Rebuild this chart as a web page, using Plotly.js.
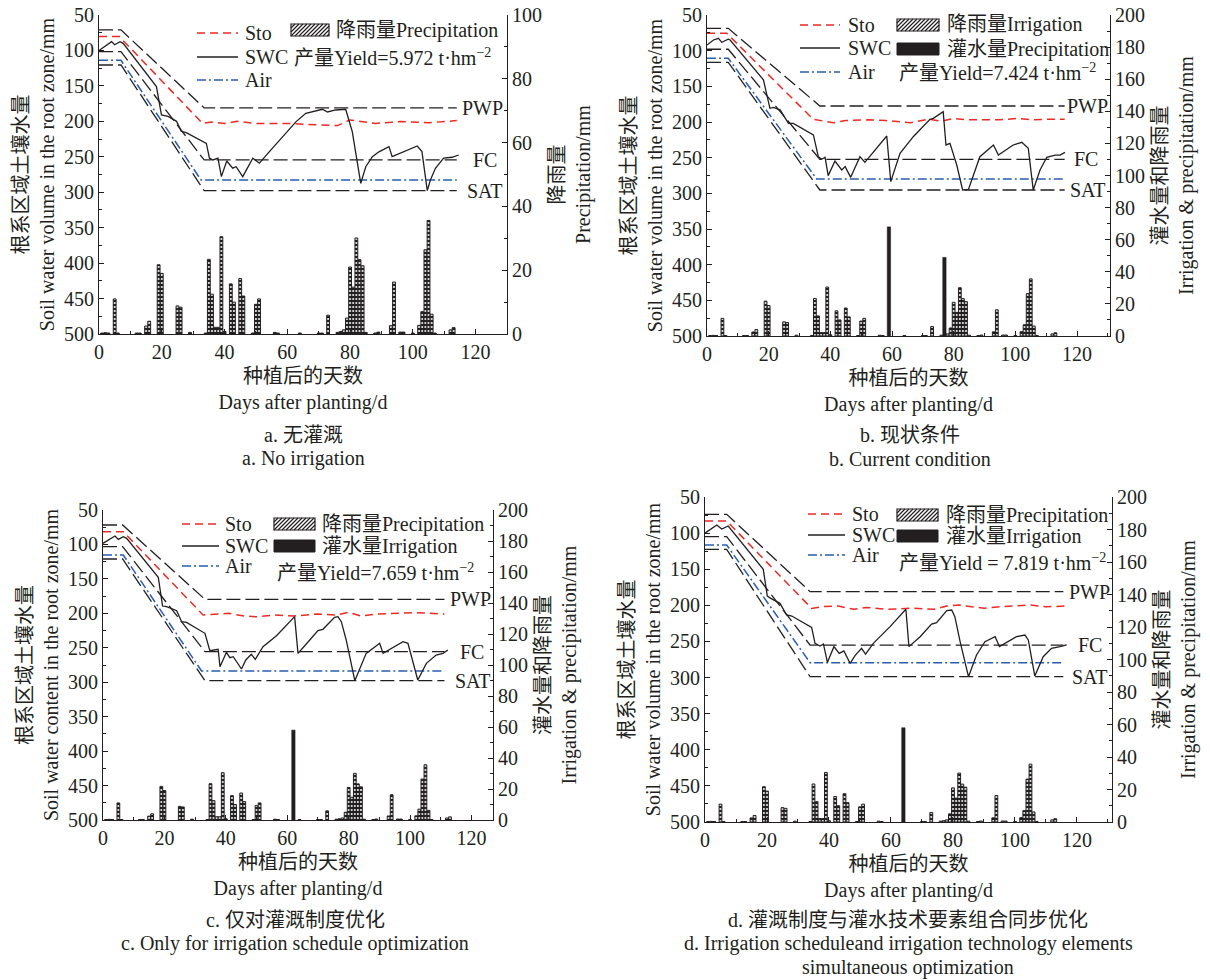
<!DOCTYPE html>
<html><head><meta charset="utf-8">
<script src="https://cdn.plot.ly/plotly-3.0.1.min.js"></script>
<style>body{margin:0;background:#fff}#chart{width:1210px;height:980px}</style>
</head><body><div id="chart"></div>
<script>
// ---------------- DATA ----------------
// Precipitation (same rainfall in all four panels), day after planting -> mm
const precipDays = [1,2,3,5,6,12,13,15,16,19,20,25,26,29,34,35,36,37,38,39,40,42,43,45,46,49,50,51,56,57,64,70,71,73,76,77,78,79,80,81,82,83,84,85,88,89,93,94,96,97,100,102,103,104,105,106,107,112,113];
const precipVals = [0.3,0.4,0.3,11,0.3,0.3,0.3,2.5,4,21.7,19,8.8,8.4,0.5,0.3,23.4,12.5,2.1,2.1,30.5,0.8,15.7,10,17.4,11.9,0.3,9.3,11,0.5,0.3,0.3,0.3,0.3,5.9,0.5,0.8,1.3,5,21,14.7,30.1,23.3,21.4,0.5,0.3,0.6,2.6,16.3,0.6,0.6,0.3,2.7,7,26.4,35.6,6.2,0.3,1.3,2];

// Irrigation events
const irrigDaysB = [59,77];  const irrigValsB = [68,49];
const irrigDaysC = [62];     const irrigValsC = [58];
const irrigDaysD = [64];     const irrigValsD = [58];

// Panel a: no irrigation
const bndDaysA = [0,7,33.5,114];
const pwpA = [71,71,181,181];
const fcA  = [101.7,101.7,254.5,254.5];
const airDaysA = [0,7,32.5,114];
const airA = [114,114,282.7,282.7];
const satA = [120.5,120.5,297.8,297.8];
const stoDaysA = [0,6.5,33,36,40,44,50,60,70,76,80,88,96,105,114];
const stoA = [80.5,80.5,203,201,203,200,203,203,205,206,198,203,200.4,202,199];
const swcDaysA = [0,4,5,6.7,7.7,18.3,19.9,22,24.7,26.2,27.8,33.1,34.2,35.2,36.3,37.9,39,40.7,42.6,43.7,45.8,49,51.1,54.3,58.5,62.8,65.9,71.2,72.8,75.4,78.6,80.7,83.4,85,87.1,89.2,92.4,93.4,101.4,102.9,104.6,105.6,107.2,109.8,112.5,114.6];
const swcA = [100,87.6,92,87.6,90,151,191,193,200,214,216,228.6,231,252,254.5,252,278,256,266,264,278,252,259,242.7,221.6,200.4,188.7,183,186.8,184,183,214.5,287.4,264,249.8,243,235.7,249.8,234.8,242.7,297.8,282.7,266.3,252,250.7,247.5];

// Panel b: current condition
const bndDaysB = [0,6.9,36.6,116];
const pwpB = [68.7,68.7,177.6,177.6];
const fcB  = [98,98,252.3,252.3];
const airDaysB = [0,6.9,35.6,116];
const airB = [110.7,110.7,280,280];
const satB = [116.4,116.4,295.3,295.3];
const stoDaysB = [0,6.4,34.5,41,45,52,58,66,72,76,80,85,89,95,101,106,112,116];
const stoB = [75.7,75.7,196.3,201,198,197,198,201,196,199,195,197,197,197,195,197,196,196];
const swcDaysB = [0,2.1,3.7,4.8,6.9,7.5,18.3,20.4,21.5,23.7,26.4,28,34.5,36.1,37.2,38.3,39.3,41.5,43.7,44.8,46.6,49.6,51.2,58.3,59.6,62.6,66.9,72.3,73.4,76.6,77.5,78.8,81,82.9,84.8,88.5,92.9,94.5,99.3,102.1,104.2,105.8,108,110.2,112.9,114.5,116.1];
const swcB = [92,85,82.7,88.3,84,85,141,180.8,179.4,183,201.9,201.9,218.2,248.6,252.3,249.5,275.2,254.7,267.3,262.6,277.6,248.6,256.5,219.6,283.6,244,220.6,196.3,194.9,185.5,232.2,229.9,260.3,295.3,294.4,248.6,232.2,246.3,232.2,228.5,236.9,295.3,267.3,249.5,246.3,246.3,242.5];

// Panel c: irrigation schedule optimised
const bndDaysC = [0,6.4,33.2,111.2];
const pwpC = [71.8,71.8,179.7,179.7];
const fcC  = [103.2,103.2,255.6,255.6];
const airDaysC = [0,6.6,32.1,111.2];
const airC = [115.3,115.3,283.7,283.7];
const satC = [121.1,121.1,297.8,297.8];
const stoDaysC = [0,6.6,32.6,37,41,46,50,56,62,70,76,80,84,89,96,102,111.2];
const stoC = [81.5,81.5,202.4,201,200,204,205,202.4,204,201,202.4,198.5,204,201,200,199,201];
const swcDaysC = [0,3.9,5,6.6,7.7,18,19.4,20.7,24,25.6,27.2,33.2,34.8,36.4,37.5,38.1,40.2,41.3,42.4,45.1,46.5,48.3,49.6,52.1,56.5,62.4,63.5,66.2,70,71.6,75.4,76.5,77.6,79.2,82,85.7,90.1,91.2,97.7,99.3,102.5,105.3,108.5,110.7,112.3];
const swcC = [98.4,87.7,92.6,88.7,91.1,147.7,189.4,190.3,196.1,212.1,213.1,229,254.2,253.2,252.3,277.4,256.6,264.4,262.9,280.8,267.7,259.5,266.8,248.4,232.4,204.8,258.1,244.5,225.2,223.2,205.8,204.8,212.1,238.7,297.8,258.1,243.5,258.1,241.1,243.5,296.8,272.6,260.5,258.1,253.2];

// Panel d: schedule + technology optimised
const bndDaysD = [0,7,33.9,115.6];
const pwpD = [74,74,181,181];
const fcD  = [105,105,255,255];
const airDaysD = [0,7,33.9,115.6];
const airD = [116.5,116.5,279.4,279.4];
const satD = [122.5,122.5,298.8,298.8];
const stoDaysD = [0,7,34.4,38,43,48,52,59,67,74,78,82,86,90,95,99,105,110,116];
const stoD = [83.2,83.2,204.2,201.8,201,205.5,203,205.5,204,205.5,201,199.5,202,204,202,201,199.5,202,201];
const swcDaysD = [0,3.8,5.4,7.5,18.8,20.1,21.2,24.2,26.3,28,34.4,35.5,37.1,38.2,39.5,41.6,43.3,44.8,46.8,48.4,50.5,51.8,54.3,59.7,64.8,65.8,69.4,73.1,74.7,78,79.6,80.6,82.3,85,87.6,90.3,93.6,95,100.5,103.2,104.3,106.4,109.1,111.8,114.5,116.7];
const swcD = [100,88.8,94.3,90.2,150.2,187.1,190.3,197.2,213.4,214.8,230.5,252.6,256.3,253.5,278.9,257.2,266.5,263.2,280.3,269.7,259.5,267.4,252.6,229.5,205.5,257.2,243.4,225.9,224,207.4,206.5,215.7,250.3,298.8,268.8,250.3,243.4,257.2,243.4,241.1,248,297.9,271.1,259.5,257.2,254.9];

// Text
const xTitle = '种植后的天数<br>Days after planting/d';
const yTitleAB = '根系区域土壤水量<br>Soil water volume in the root zone/mm';
const yTitleC = '根系区域土壤水量<br>Soil water content in the root zone/mm';
const rTitleA = '降雨量<br>Precipitation/mm';
const rTitleBCD = '灌水量和降雨量<br>Irrigation &amp; precipitation/mm';
const leftTicks = [50,100,150,200,250,300,350,400,450,500];

// ---------------- STYLE / LAYOUT ----------------
const W = 1210, H = 980;
const px = x => x / W, py = y => 1 - y / H;
const FONT = "'Liberation Serif', 'Noto Sans CJK SC', serif";
const INK = '#231f20';
const RED = '#ec2a25';
const BLUE = '#2a5db0';
const DASH_K = '14px,5px', DASH_R = '8px,5px', DASH_B = '9px,3px,2px,3px';
const FS = 20;

const panels = [
  {xa:'x', ya:'y', yb:'y2', xl:99, xr:507, yt:15, yb_:334, xmax:130, rmax:100, ytitle:yTitleAB, rtitle:rTitleA,
   bnd:[bndDaysA,pwpA,fcA,airDaysA,airA,satA,stoDaysA,stoA], swc:[swcDaysA,swcA], irr:null,
   labels:{pwp:[505,181], fc:[499,254.5], sat:[505,297.8]},
   leg:{lx0:197,lx1:238,ltx:243,rows:[33,57,80], bx0:291,bx1:329,btx:334,brows:[30],
        btexts:['降雨量Precipitation'], yield:[292,57,'产量Yield=5.972 t·hm<sup>−2</sup>']},
   cap:[303,435,['a. 无灌溉','a. No irrigation']]},
  {xa:'x2', ya:'y3', yb:'y4', xl:707, xr:1110, yt:15, yb_:336, xmax:130.7, rmax:200, ytitle:yTitleAB, rtitle:rTitleBCD,
   bnd:[bndDaysB,pwpB,fcB,airDaysB,airB,satB,stoDaysB,stoB], swc:[swcDaysB,swcB], irr:[irrigDaysB,irrigValsB],
   labels:{pwp:[1110,177.6], fc:[1100,252.3], sat:[1108,295.3]},
   leg:{lx0:800,lx1:840,ltx:846,rows:[25,48,72], bx0:897,bx1:939,btx:945,brows:[25,49],
        btexts:['降雨量Irrigation','灌水量Precipitation'], yield:[897,72,'产量Yield=7.424 t·hm<sup>−2</sup>']},
   cap:[910,435,['b. 现状条件','b. Current condition']]},
  {xa:'x3', ya:'y5', yb:'y6', xl:103, xr:493, yt:510, yb_:820, xmax:127, rmax:200, ytitle:yTitleC, rtitle:rTitleBCD,
   bnd:[bndDaysC,pwpC,fcC,airDaysC,airC,satC,stoDaysC,stoC], swc:[swcDaysC,swcC], irr:[irrigDaysC,irrigValsC],
   labels:{pwp:[493,179.7], fc:[486,255.6], sat:[493,297.8]},
   leg:{lx0:182,lx1:219,ltx:223,rows:[524,546,566], bx0:274,bx1:315,btx:320,brows:[524,546],
        btexts:['降雨量Precipitation','灌水量Irrigation'], yield:[275,572,'产量Yield=7.659 t·hm<sup>−2</sup>']},
   cap:[295,920,['c. 仅对灌溉制度优化','c. Only for irrigation schedule optimization']]},
  {xa:'x4', ya:'y7', yb:'y8', xl:705, xr:1112, yt:497, yb_:822, xmax:131.3, rmax:200, ytitle:yTitleAB, rtitle:rTitleBCD,
   bnd:[bndDaysD,pwpD,fcD,airDaysD,airD,satD,stoDaysD,stoD], swc:[swcDaysD,swcD], irr:[irrigDaysD,irrigValsD],
   labels:{pwp:[1112,181], fc:[1104,255], sat:[1110,298.8]},
   leg:{lx0:808,lx1:845,ltx:850,rows:[514,535,555], bx0:897,bx1:938,btx:944,brows:[515,536],
        btexts:['降雨量Precipitation','灌水量Irrigation'], yield:[897,562,'产量Yield = 7.819 t·hm<sup>−2</sup>']},
   cap:[908,920,['d. 灌溉制度与灌水技术要素组合同步优化','d. Irrigation scheduleand irrigation technology elements','simultaneous optimization']]}
];

const traces = [], shapes = [], annotations = [];
const layout = {
  width: W, height: H, margin:{l:0,r:0,t:0,b:0}, paper_bgcolor:'#fff', plot_bgcolor:'rgba(0,0,0,0)',
  showlegend:false, barmode:'overlay', font:{family:FONT, size:FS, color:INK}
};
const tf = {family:FONT, size:FS, color:INK};

function axName(ref){ return ref.replace('x','xaxis').replace('y','yaxis'); }

function hatchPath(x0,x1,y0,y1,step){
  let d='';
  const h = y1 - y0;
  for(let s = x0 - h + step; s < x1; s += step){
    let ax = s, ay = y1, bx = s + h, by = y0;
    if(ax < x0){ ay = y1 - (x0 - ax); ax = x0; }
    if(bx > x1){ by = y0 + (bx - x1); bx = x1; }
    d += `M${px(ax)},${py(ay)}L${px(bx)},${py(by)}`;
  }
  return d;
}

panels.forEach((p,i)=>{
  const xd = [px(p.xl), px(p.xr)], yd = [py(p.yb_), py(p.yt)];
  layout[axName(p.xa)] = {domain:xd, anchor:p.ya, range:[0,p.xmax], tick0:0, dtick:20,
    ticks:'inside', ticklen:5, tickcolor:INK, showline:true, linecolor:INK, linewidth:1,
    showgrid:false, zeroline:false, tickfont:tf,
    minor:{ticks:'inside', ticklen:3, dtick:10, tick0:0, tickcolor:INK, showgrid:false},
    title:{text:xTitle, font:tf, standoff:6}, automargin:false};
  layout[axName(p.ya)] = {domain:yd, anchor:p.xa, range:[500,50], tickvals:leftTicks,
    ticks:'inside', ticklen:5, tickcolor:INK, showline:true, linecolor:INK, linewidth:1,
    showgrid:false, zeroline:false, tickfont:tf,
    minor:{ticks:'inside', ticklen:3, dtick:25, tick0:50, tickcolor:INK, showgrid:false},
    title:{text:p.ytitle, font:tf, standoff:4}, automargin:false};
  layout[axName(p.yb)] = {overlaying:p.ya, side:'right', anchor:p.xa, range:[0,p.rmax], tick0:0, dtick:20,
    ticks:'inside', ticklen:5, tickcolor:INK, showline:true, linecolor:INK, linewidth:1,
    showgrid:false, zeroline:false, tickfont:tf,
    minor:{ticks:'inside', ticklen:3, dtick:10, tick0:0, tickcolor:INK, showgrid:false},
    title:{text:p.rtitle, font:tf, standoff:8}, automargin:false};

  const [bd,pwp,fc,ad,air,sat,sd,sto] = p.bnd;
  const L = (x,y,color,dash,w)=>traces.push({type:'scatter',mode:'lines',x:x,y:y,xaxis:p.xa,yaxis:p.ya,
      line:{color:color,dash:dash,width:w},hoverinfo:'skip'});
  L(bd,pwp,INK,DASH_K,1.3);
  L(bd,fc,INK,DASH_K,1.3);
  L(bd,sat,INK,DASH_K,1.3);
  L(ad,air,BLUE,DASH_B,1.5);
  L(sd,sto,RED,DASH_R,1.5);
  L(p.swc[0],p.swc[1],INK,'solid',1.3);

  traces.push({type:'bar', x:precipDays, y:precipVals, xaxis:p.xa, yaxis:p.yb, width:0.9,
    marker:{color:'#fff', line:{color:INK,width:1},
      pattern:{shape:'-', fgcolor:INK, bgcolor:'#fff', size:4, solidity:0.6}}});
  if(p.irr){
    traces.push({type:'bar', x:p.irr[0], y:p.irr[1], xaxis:p.xa, yaxis:p.yb, width:1.1,
      marker:{color:INK, line:{color:INK,width:0.5}}});
  }

  [['PWP',p.labels.pwp],['FC',p.labels.fc],['SAT',p.labels.sat]].forEach(([t,pos])=>{
    annotations.push({text:t, xref:'paper', x:px(pos[0]), yref:p.ya, y:pos[1], xanchor:'right', yanchor:'middle',
      showarrow:false, font:tf});
  });

  const g = p.leg;
  const lineLeg = [['Sto',RED,DASH_R,1.5],['SWC',INK,'solid',1.3],['Air',BLUE,DASH_B,1.5]];
  lineLeg.forEach((l,k)=>{
    shapes.push({type:'line', xref:'paper', yref:'paper', x0:px(g.lx0), x1:px(g.lx1), y0:py(g.rows[k]), y1:py(g.rows[k]),
      line:{color:l[1], dash:l[2], width:l[3]}});
    annotations.push({text:l[0], xref:'paper', yref:'paper', x:px(g.ltx), y:py(g.rows[k]), xanchor:'left', yanchor:'middle',
      showarrow:false, font:tf});
  });
  g.brows.forEach((r,k)=>{
    const y0 = r-6, y1 = r+6;
    if(k===0){
      shapes.push({type:'rect', xref:'paper', yref:'paper', x0:px(g.bx0), x1:px(g.bx1), y0:py(y1), y1:py(y0),
        line:{color:INK,width:1.2}, fillcolor:'#fff'});
      shapes.push({type:'path', xref:'paper', yref:'paper', path:hatchPath(g.bx0,g.bx1,y0,y1,4),
        line:{color:INK,width:1.2}});
    } else {
      shapes.push({type:'rect', xref:'paper', yref:'paper', x0:px(g.bx0), x1:px(g.bx1), y0:py(y1), y1:py(y0),
        line:{color:INK,width:1}, fillcolor:INK});
    }
    annotations.push({text:g.btexts[k], xref:'paper', yref:'paper', x:px(g.btx), y:py(r), xanchor:'left', yanchor:'middle',
      showarrow:false, font:tf});
  });
  annotations.push({text:g.yield[2], xref:'paper', yref:'paper', x:px(g.yield[0]), y:py(g.yield[1]), xanchor:'left', yanchor:'middle',
      showarrow:false, font:tf});

  p.cap[2].forEach((t,k)=>{
    annotations.push({text:t, xref:'paper', yref:'paper', x:px(p.cap[0]), y:py(p.cap[1] + k*23.5), xanchor:'center', yanchor:'middle',
      showarrow:false, font:tf});
  });
});

layout.shapes = shapes;
layout.annotations = annotations;
Plotly.newPlot('chart', traces, layout, {staticPlot:true, displayModeBar:false});
</script></body></html>
